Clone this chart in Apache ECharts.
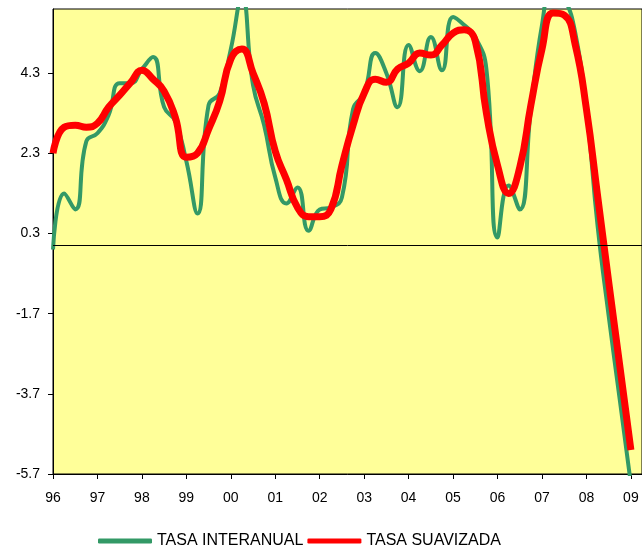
<!DOCTYPE html>
<html>
<head>
<meta charset="utf-8">
<script src="https://cdn.jsdelivr.net/npm/echarts@6/dist/echarts.min.js"></script>
<style>
    html, body { margin: 0; padding: 0; background: #fff; }
    #main { width: 642px; height: 550px; }
</style>
</head>
<body>
<div id="main"></div>
<script>
    // quarterly series, 96 T1 .. 09 T1
    var years = ['96', '97', '98', '99', '00', '01', '02', '03', '04', '05', '06', '07', '08', '09'];

    var tasaInteranual = [
        -0.1, 1.3, 0.9, 2.6, 2.8, 3.25, 4.05, 4.05, 4.4, 4.7,
        3.45, 3.1, 2.1, 0.8, 3.5, 3.8, 4.9, 6.2, 4.0, 3.0,
        1.7, 1.05, 1.45, 0.37, 0.9, 0.95, 1.2, 3.4, 3.8, 4.8,
        4.3, 3.45, 5.0, 4.35, 5.2, 4.37, 5.7, 5.5, 5.2, 4.4,
        0.2, 1.5, 0.9, 3.4, 5.5, 6.6, 6.2, 5.3, 3.4, 0.5,
        -1.75, -3.85, -5.95
    ];

    var tasaSuavizada = [
        2.3, 2.95, 3.0, 2.95, 3.05, 3.45, 3.75, 4.07, 4.37, 4.15,
        3.85, 3.2, 2.2, 2.3, 2.9, 3.6, 4.65, 4.9, 4.3, 3.55,
        2.35, 1.65, 0.95, 0.72, 0.72, 0.9, 2.0, 3.0, 3.8, 4.15,
        4.07, 4.4, 4.55, 4.8, 4.75, 5.0, 5.3, 5.38, 5.1, 3.3,
        2.0, 1.3, 1.95, 3.5, 4.9, 5.8, 5.75, 5.0, 3.4, 1.25,
        -0.9, -3.0, -5.1
    ];

    var yTicks = [-5.7, -3.7, -1.7, 0.3, 2.3, 4.3];

    var quarters = [];
    years.forEach(function (y) {
        for (var q = 1; q <= 4; q++) quarters.push(y + ' T' + q);
    });
    quarters = quarters.slice(0, 54);

    var font = "'Liberation Sans', Arial, sans-serif";
    var myChart = echarts.init(document.getElementById('main'));

    var option = {
        animation: false,
        backgroundColor: '#fff',
        grid: {
            left: 53,
            top: 9,
            width: 591,
            height: 465,
            show: true,
            backgroundColor: '#FFFF99',
            borderColor: '#000',
            borderWidth: 1
        },
        legend: {
            left: 93,
            top: 528,
            itemWidth: 54,
            itemHeight: 5,
            itemGap: 4,
            icon: 'roundRect',
            textStyle: { fontFamily: font, fontSize: 16, color: '#000' },
            data: ['TASA INTERANUAL', 'TASA SUAVIZADA']
        },
        xAxis: {
            type: 'category',
            data: quarters,
            boundaryGap: false,
            axisLine: { onZero: false, lineStyle: { color: '#000', width: 1 } },
            axisTick: { interval: 3, length: 5, lineStyle: { color: '#000' } },
            axisLabel: {
                interval: 3,
                margin: 17,
                fontFamily: font,
                fontSize: 14,
                color: '#000',
                formatter: function (v) { return v.split(' ')[0]; }
            },
            splitLine: { show: false }
        },
        yAxis: {
            type: 'value',
            min: -5.7,
            max: 5.9,
            axisLine: { show: true, lineStyle: { color: '#000', width: 1 } },
            axisTick: { show: true, length: 5, customValues: yTicks, lineStyle: { color: '#000' } },
            axisLabel: {
                customValues: yTicks,
                margin: 13,
                fontFamily: font,
                fontSize: 14,
                color: '#000',
                formatter: function (v) { return v.toFixed(1); }
            },
            splitLine: { show: false }
        },
        series: [
            {
                name: 'TASA INTERANUAL',
                type: 'line',
                data: tasaInteranual,
                smooth: 0.5,
                symbol: 'none',
                color: '#339966',
                lineStyle: { color: '#339966', width: 4 },
                markLine: {
                    silent: true,
                    symbol: 'none',
                    label: { show: false },
                    lineStyle: { color: '#000', width: 1, type: 'solid' },
                    data: [{ yAxis: 0 }]
                }
            },
            {
                name: 'TASA SUAVIZADA',
                type: 'line',
                data: tasaSuavizada,
                smooth: 0.5,
                symbol: 'none',
                color: '#FF0000',
                lineStyle: { color: '#FF0000', width: 7 }
            }
        ]
    };
    myChart.setOption(option);
</script>
</body>
</html>
